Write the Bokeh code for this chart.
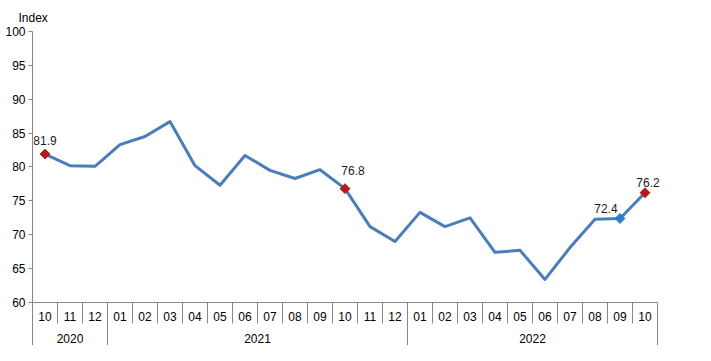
import math
from bokeh.plotting import figure
from bokeh.models import Range1d, FixedTicker, ColumnDataSource
from bokeh.core.properties import value
from bokeh.embed import file_html
from bokeh.resources import INLINE

months = ["10", "11", "12",
          "01", "02", "03", "04", "05", "06", "07", "08", "09", "10", "11", "12",
          "01", "02", "03", "04", "05", "06", "07", "08", "09", "10"]
years = ["2020"] * 3 + ["2021"] * 12 + ["2022"] * 10
index_values = [81.9, 80.2, 80.1, 83.3, 84.5, 86.7, 80.2, 77.3, 81.7, 79.5, 78.3, 79.6,
                76.8, 71.2, 69.0, 73.3, 71.2, 72.5, 67.4, 67.7, 63.4, 68.1, 72.3, 72.4, 76.2]
y_ticks = [60, 65, 70, 75, 80, 85, 90, 95, 100]
red_points = [0, 12, 24]
blue_points = [23]

FONT = "Liberation Sans"
AXIS = "#868686"
LINE = "#4a7ebb"

n = len(index_values)
xs = [i + 0.5 for i in range(n)]

Y_MIN, Y_MAX = 60, 100
BOTTOM = 53.65
MONTH_SEP = 56.9
MONTH_Y = 57.93
YEAR_Y = 54.69

p = figure(width=695, height=345, output_backend="svg", toolbar_location=None,
           x_range=Range1d(0, n + 1), y_range=Range1d(BOTTOM, Y_MAX),
           min_border_left=32, min_border_right=13, min_border_top=31, min_border_bottom=0)
p.outline_line_color = None
p.xaxis.visible = False
p.xgrid.visible = False
p.ygrid.visible = False

p.title.text = "Index"
p.title.align = "left"
p.title.offset = -14
p.title.text_font = FONT
p.title.text_font_size = "12px"
p.title.text_font_style = "normal"
p.title.text_color = "#000000"
p.title.standoff = 13

ya = p.yaxis[0]
ya.ticker = FixedTicker(ticks=y_ticks)
ya.axis_line_color = AXIS
ya.major_tick_line_color = AXIS
ya.major_tick_out = 4
ya.major_tick_in = 0
ya.minor_tick_line_color = None
ya.major_label_text_font = FONT
ya.major_label_text_font_size = "12px"
ya.major_label_text_color = "#000000"
ya.major_label_standoff = 3

# category axis line
p.segment(x0=[0], y0=[Y_MIN], x1=[n], y1=[Y_MIN], line_color=AXIS, line_width=1)

# month separators and labels
sep_x = list(range(1, n))
year_bounds = [i for i in range(1, n) if years[i] != years[i - 1]] + [n]
month_only = [x for x in sep_x if x not in year_bounds]
p.segment(x0=month_only, y0=[Y_MIN] * len(month_only), x1=month_only,
          y1=[MONTH_SEP] * len(month_only), line_color=AXIS, line_width=1)
p.segment(x0=year_bounds, y0=[Y_MIN] * len(year_bounds), x1=year_bounds,
          y1=[BOTTOM] * len(year_bounds), line_color=AXIS, line_width=1)
p.text(x=xs, y=[MONTH_Y] * n, text=months, text_font=value(FONT),
       text_font_size="12px", text_align="center", text_baseline="middle",
       text_color="#000000")

# year labels
uniq_years = []
for y in years:
    if y not in uniq_years:
        uniq_years.append(y)
year_centers = []
for y in uniq_years:
    idx = [i for i, yy in enumerate(years) if yy == y]
    year_centers.append((idx[0] + idx[-1] + 1) / 2)
p.text(x=year_centers, y=[YEAR_Y] * len(uniq_years), text=uniq_years,
       text_font=value(FONT), text_font_size="12px", text_align="center",
       text_baseline="middle", text_color="#000000")

# series
p.line(xs, index_values, line_color=LINE, line_width=3, line_join="round")

red_src = ColumnDataSource(dict(x=[xs[i] for i in red_points],
                                y=[index_values[i] for i in red_points],
                                t=[f"{index_values[i]:.1f}" for i in red_points],
                                dx=[0, 8, 3], dy=[-14, -18, -10]))
blue_src = ColumnDataSource(dict(x=[xs[i] for i in blue_points],
                                 y=[index_values[i] for i in blue_points],
                                 t=[f"{index_values[i]:.1f}" for i in blue_points],
                                 dx=[-14], dy=[-10]))
p.scatter("x", "y", source=red_src, marker="square", size=7, angle=math.pi / 4,
          fill_color="#b3191f", line_color="#b3191f")
p.scatter("x", "y", source=blue_src, marker="square", size=7, angle=math.pi / 4,
          fill_color="#2f7bc8", line_color="#2f7bc8")
for src in (red_src, blue_src):
    p.text("x", "y", text="t", source=src, x_offset="dx", y_offset="dy",
           text_font=value(FONT), text_font_size="12px", text_align="center",
           text_baseline="middle", text_color="#1a1a1a")

open("out.html", "w").write(file_html(p, INLINE))
